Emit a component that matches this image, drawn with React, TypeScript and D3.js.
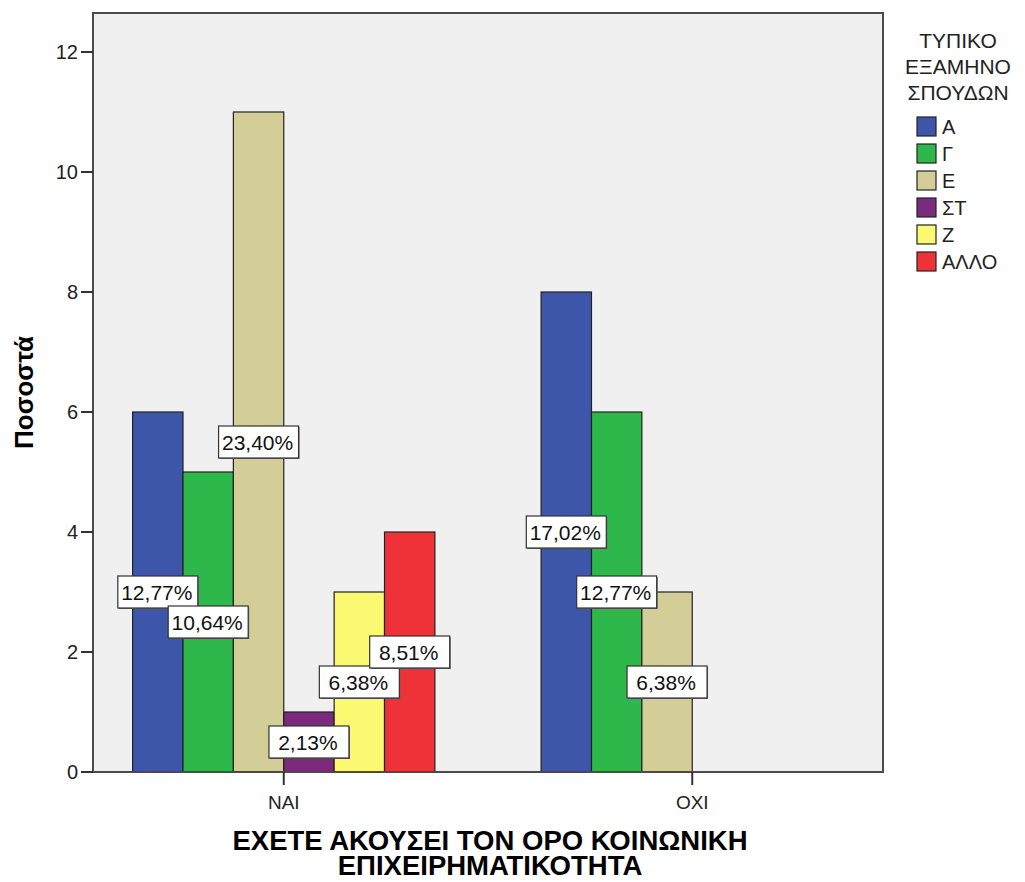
import React from "react";
import * as d3 from "d3";

const groups = ["ΝΑΙ", "ΟΧΙ"];
const semesters = ["Α", "Γ", "Ε", "ΣΤ", "Ζ", "ΑΛΛΟ"];
const colors = ["#3D56AA", "#2EB74A", "#D3CE98", "#7B2A7D", "#FBF872", "#EE3237"];
// counts per semester, in order of `semesters`
const naiValues = [6, 5, 11, 1, 3, 4];
const oxiValues = [8, 6, 3, 0, 0, 0];
const yTicks = [0, 2, 4, 6, 8, 10, 12];
const legendTitle = ["ΤΥΠΙΚΟ", "ΕΞΑΜΗΝΟ", "ΣΠΟΥΔΩΝ"];
const xTitle = ["ΕΧΕΤΕ ΑΚΟΥΣΕΙ ΤΟΝ ΟΡΟ ΚΟΙΝΩΝΙΚΗ", "ΕΠΙΧΕΙΡΗΜΑΤΙΚΟΤΗΤΑ"];
const yTitle = "Ποσοστά";

const width = 1025;
const height = 882;
const plot = { left: 93, right: 883, top: 13, bottom: 772 };
const font = "'Liberation Sans', Arial, sans-serif";

const locale = d3.formatLocale({
  decimal: ",",
  thousands: ".",
  grouping: [3],
  currency: ["", "€"],
});
const pct = locale.format(".2%");

const App = () => {
  const total = d3.sum(naiValues) + d3.sum(oxiValues);
  const rows = [naiValues, oxiValues];

  const x = d3
    .scalePoint<string>()
    .domain(groups)
    .range([plot.left, plot.right])
    .padding(0.467);
  const step = x.step();
  const inner = d3
    .scaleBand<string>()
    .domain(semesters)
    .range([-step * 0.37, step * 0.37]);
  const y = d3.scaleLinear([0, 12.65], [plot.bottom, plot.top]);

  const bars = groups
    .flatMap((g, gi) => semesters.map((s, si) => ({ g, s, si, v: rows[gi][si] })))
    .filter((d) => d.v > 0);

  const labelW = 80;
  const labelH = 32;

  return (
    <svg
      width={width}
      height={height}
      style={{ position: "absolute", left: 0, top: 0, background: "#fff" }}
      fontFamily={font}
    >
      {/* plot background */}
      <rect
        x={plot.left}
        y={plot.top}
        width={plot.right - plot.left}
        height={plot.bottom - plot.top}
        fill="#F0F0F0"
      />

      {/* bars */}
      {bars.map((d) => {
        const bx = x(d.g)! + inner(d.s)!;
        return (
          <rect
            key={d.g + d.s}
            x={bx}
            y={y(d.v)}
            width={inner.bandwidth()}
            height={y(0) - y(d.v)}
            fill={colors[d.si]}
            stroke="#222"
            strokeWidth={1.2}
          />
        );
      })}

      {/* percentage labels */}
      {bars.map((d) => {
        const cx = x(d.g)! + inner(d.s)! + inner.bandwidth() / 2;
        const cy = y(d.v / 2);
        return (
          <g key={"l" + d.g + d.s}>
            <rect
              x={cx - labelW / 2 + 1}
              y={cy - labelH / 2 + 1}
              width={labelW}
              height={labelH}
              fill="#666"
            />
            <rect
              x={cx - labelW / 2}
              y={cy - labelH / 2}
              width={labelW}
              height={labelH}
              fill="#fff"
              stroke="#333"
              strokeWidth={1.2}
            />
            <text x={cx - 1} y={cy + 7.5} textAnchor="middle" fontSize={21} fill="#111">
              {pct(d.v / total)}
            </text>
          </g>
        );
      })}

      {/* plot frame */}
      <rect
        x={plot.left}
        y={plot.top}
        width={plot.right - plot.left}
        height={plot.bottom - plot.top}
        fill="none"
        stroke="#4a4a4a"
        strokeWidth={2}
      />

      {/* y axis */}
      {yTicks.map((t) => (
        <g key={t} transform={`translate(0,${y(t)})`}>
          <line x1={plot.left - 12} x2={plot.left} stroke="#333" strokeWidth={2} />
          <text x={plot.left - 15} y={7} textAnchor="end" fontSize={20} fill="#222">
            {t}
          </text>
        </g>
      ))}

      {/* x axis */}
      {groups.map((g) => (
        <g key={g} transform={`translate(${x(g)},0)`}>
          <line y1={plot.bottom} y2={plot.bottom + 13} stroke="#333" strokeWidth={2} />
          <text y={plot.bottom + 37} textAnchor="middle" fontSize={19} fill="#222">
            {g}
          </text>
        </g>
      ))}

      {/* axis titles */}
      {xTitle.map((line, i) => (
        <text
          key={line}
          x={(plot.left + plot.right) / 2 + 2}
          y={850 + i * 25}
          textAnchor="middle"
          fontSize={27.5}
          fontWeight="bold"
          fill="#000"
        >
          {line}
        </text>
      ))}
      <text
        transform={`translate(33,${(plot.top + plot.bottom) / 2}) rotate(-90)`}
        textAnchor="middle"
        fontSize={26}
        fontWeight="bold"
        fill="#000"
      >
        {yTitle}
      </text>

      {/* legend */}
      {legendTitle.map((line, i) => (
        <text key={line} x={958} y={48 + i * 26} textAnchor="middle" fontSize={21} fill="#222">
          {line}
        </text>
      ))}
      {semesters.map((s, i) => (
        <g key={s} transform={`translate(917,${117 + i * 27})`}>
          <rect width={19} height={19} fill={colors[i]} stroke="#222" strokeWidth={1.2} />
          <text x={25} y={17} fontSize={20} fill="#222">
            {s}
          </text>
        </g>
      ))}
    </svg>
  );
};

export default App;
